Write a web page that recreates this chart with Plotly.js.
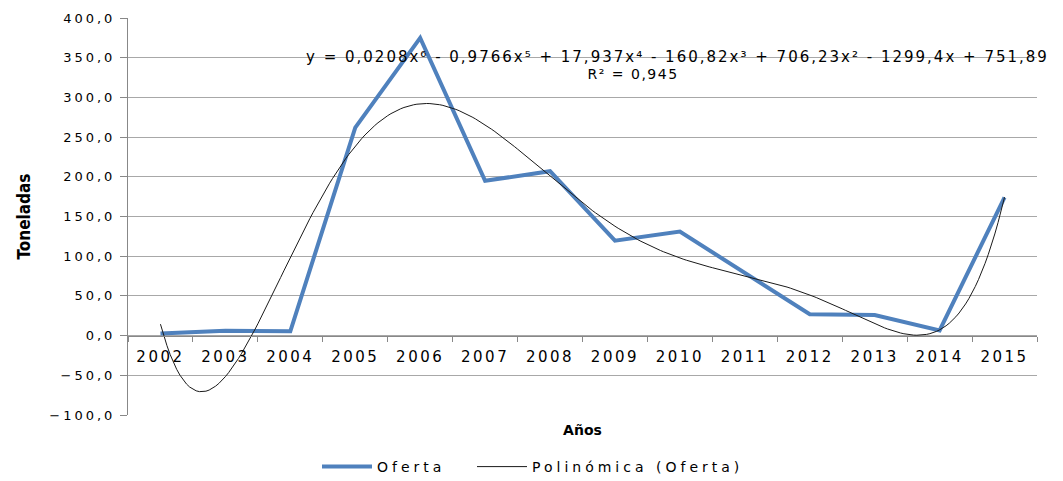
<!DOCTYPE html>
<html>
<head>
<meta charset="utf-8">
<script src="https://cdn.plot.ly/plotly-3.0.1.min.js"></script>
<style>
  html, body { margin: 0; padding: 0; background: #fff; }
  #chart { width: 1063px; height: 481px; }
  .ytick text { letter-spacing: 3px; }
  .xtick text { letter-spacing: 2.5px; }
  .infolayer [class*="legend"] text, text.legendtext { letter-spacing: 4px !important; }
  .annotation[data-index="0"] .annotation-text { letter-spacing: 2px; }
  .annotation[data-index="1"] .annotation-text { letter-spacing: 1.5px; }
</style>
</head>
<body>
<div id="chart"></div>
<script>
// ---- data ----
const years = ['2002','2003','2004','2005','2006','2007','2008','2009','2010','2011','2012','2013','2014','2015'];
const oferta = [2.5, 6.2, 5.4, 262, 375, 195, 207, 119.5, 131, 79, 27, 26, 6.6, 174];
const equationText = 'y = 0,0208x⁶ - 0,9766x⁵ + 17,937x⁴ - 160,82x³ + 706,23x² - 1299,4x + 751,89';
const r2Text = 'R² = 0,945';
const yTicks = [-100, -50, 0, 50, 100, 150, 200, 250, 300, 350, 400];

// ---- 6th-order least-squares trendline (as the spreadsheet computes it) ----
function polyfit(xs, ys, deg) {
  const n = xs.length;
  const mean = xs.reduce((a, b) => a + b, 0) / n;
  const scale = (Math.max(...xs) - Math.min(...xs)) / 2;
  const ts = xs.map(x => (x - mean) / scale);
  const m = deg + 1;
  const A = [];
  for (let i = 0; i < m; i++) {
    A.push(new Array(m + 1).fill(0));
    for (let j = 0; j < m; j++) {
      let s = 0;
      for (let k = 0; k < n; k++) s += Math.pow(ts[k], i + j);
      A[i][j] = s;
    }
    let s = 0;
    for (let k = 0; k < n; k++) s += ys[k] * Math.pow(ts[k], i);
    A[i][m] = s;
  }
  for (let c = 0; c < m; c++) {
    let p = c;
    for (let r = c + 1; r < m; r++) if (Math.abs(A[r][c]) > Math.abs(A[p][c])) p = r;
    [A[c], A[p]] = [A[p], A[c]];
    for (let r = 0; r < m; r++) {
      if (r === c) continue;
      const f = A[r][c] / A[c][c];
      for (let j = c; j <= m; j++) A[r][j] -= f * A[c][j];
    }
  }
  const coef = A.map((row, i) => row[m] / row[i]);
  return x => {
    const t = (x - mean) / scale;
    let v = 0;
    for (let i = m - 1; i >= 0; i--) v = v * t + coef[i];
    return v;
  };
}
const xIdx = years.map((_, i) => i + 1);
const fit = polyfit(xIdx, oferta, 6);
const trendX = [], trendY = [];
for (let i = 0; i <= 260; i++) {
  const x = 1 + i * 13 / 260;
  trendX.push(x - 1);
  trendY.push(fit(x));
}

const FONT = 'DejaVu Sans, Verdana, sans-serif';

const traces = [
  {
    x: years, y: oferta, type: 'scatter', mode: 'lines', name: 'Oferta',
    line: { color: '#4F81BD', width: 4 }, xaxis: 'x', yaxis: 'y', legend: 'legend'
  },
  {
    x: trendX, y: trendY, type: 'scatter', mode: 'lines', name: 'Polinómica (Oferta)',
    line: { color: '#1a1a1a', width: 1 }, xaxis: 'x2', yaxis: 'y', legend: 'legend2'
  }
];

const legendCommon = {
  orientation: 'h', xanchor: 'left', yanchor: 'middle', y: (415 - 467) / 397,
  font: { size: 14, family: FONT, color: '#000' },
  itemwidth: 50, entrywidthmode: 'pixels', entrywidth: 320,
  bgcolor: 'rgba(0,0,0,0)'
};

const layout = {
  width: 1063, height: 481,
  margin: { l: 128, r: 26, t: 18, b: 66, autoexpand: false },
  paper_bgcolor: '#ffffff', plot_bgcolor: '#ffffff',
  separators: ', ',
  showlegend: true,
  font: { family: FONT, color: '#000000' },
  xaxis: {
    type: 'category',
    categoryorder: 'array', categoryarray: years,
    range: [-0.5, 13.5],
    anchor: 'free', position: 0.2,
    tickson: 'boundaries',
    ticks: 'outside', ticklen: 5, tickcolor: '#888888', tickwidth: 1,
    showline: true, linecolor: '#888888', linewidth: 1,
    showgrid: false, zeroline: false,
    tickfont: { size: 15, family: FONT, color: '#000' },
    ticklabelstandoff: 7,
    title: { text: 'Años', font: { size: 14, family: FONT, weight: 'bold', color: '#000' }, standoff: 60 },
    fixedrange: true
  },
  xaxis2: {
    overlaying: 'x', range: [-0.5, 13.5], visible: false, anchor: 'y'
  },
  yaxis: {
    range: [-100, 400],
    tickvals: yTicks,
    tickformat: '.1f',
    ticks: 'outside', ticklen: 7, tickcolor: '#888888', tickwidth: 1,
    showline: true, linecolor: '#888888', linewidth: 1,
    showgrid: true, gridcolor: '#a8a8a8', gridwidth: 1,
    zeroline: false,
    tickfont: { size: 13, family: FONT, color: '#000' },
    ticklabelstandoff: 2,
    title: { text: 'Toneladas', font: { size: 17, family: 'Liberation Sans Narrow, DejaVu Sans Condensed, sans-serif', weight: 'bold', color: '#000' }, standoff: 14 },
    fixedrange: true
  },
  legend: Object.assign({}, legendCommon, { x: (317 - 128) / 909 }),
  legend2: Object.assign({}, legendCommon, { x: (472 - 128) / 909 }),
  annotations: [
    {
      xref: 'paper', yref: 'paper', x: (677 - 128) / 909, y: (415 - 57) / 397,
      xanchor: 'center', yanchor: 'middle', showarrow: false,
      text: equationText, font: { size: 15, family: FONT, color: '#000' }
    },
    {
      xref: 'paper', yref: 'paper', x: (633 - 128) / 909, y: (415 - 74) / 397,
      xanchor: 'center', yanchor: 'middle', showarrow: false,
      text: r2Text, font: { size: 14, family: FONT, color: '#000' }
    }
  ]
};

Plotly.newPlot('chart', traces, layout, { displayModeBar: false, staticPlot: true });
</script>
</body>
</html>
